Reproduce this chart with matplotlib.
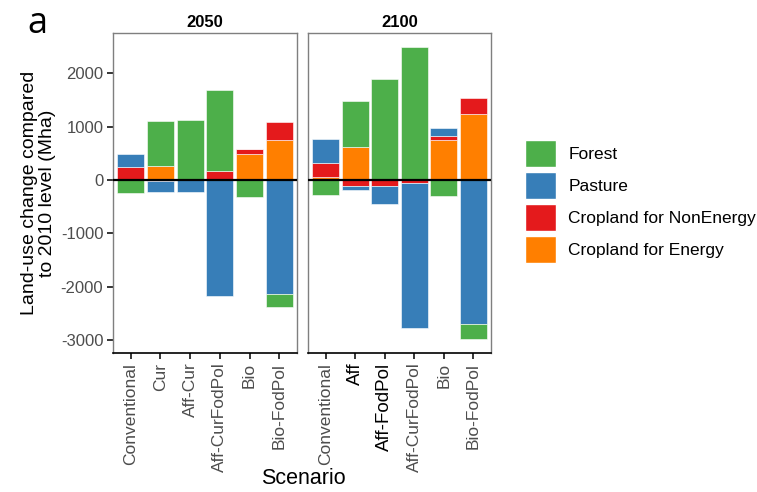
import matplotlib
matplotlib.use("Agg")
import matplotlib.pyplot as plt
from matplotlib.patches import Patch
import numpy as np

plt.rcParams['font.family'] = ['Liberation Sans', 'DejaVu Sans']

years = ["2050", "2100"]
scen_2050 = ["Conventional", "Cur", "Aff-Cur", "Aff-CurFodPol", "Bio", "Bio-FodPol"]
scen_2100 = ["Conventional", "Aff", "Aff-FodPol", "Aff-CurFodPol", "Bio", "Bio-FodPol"]

categories = ["Forest", "Pasture", "Cropland for NonEnergy", "Cropland for Energy"]
colors = {"Forest": "#4DAF4A", "Pasture": "#377EB8",
          "Cropland for NonEnergy": "#E41A1C", "Cropland for Energy": "#FF7F00"}

forest_2050 = [-243, 854, 1128, 1508, -311, -237]
pasture_2050 = [249, -210, -230, -2162, 0, -2131]
nonenergy_2050 = [243, -15, 0, 168, 94, 343]
energy_2050 = [0, 255, 0, 0, 492, 741]

forest_2100 = [-274, 853, 1882, 2486, -305, -274]
pasture_2100 = [461, -87, -336, -2711, 144, -2698]
nonenergy_2100 = [262, -106, -106, -62, 81, 299]
energy_2100 = [50, 617, 0, 0, 741, 1234]

data = {
    "2050": (scen_2050, {"Forest": forest_2050, "Pasture": pasture_2050,
                         "Cropland for NonEnergy": nonenergy_2050,
                         "Cropland for Energy": energy_2050}),
    "2100": (scen_2100, {"Forest": forest_2100, "Pasture": pasture_2100,
                         "Cropland for NonEnergy": nonenergy_2100,
                         "Cropland for Energy": energy_2100}),
}

yticks = [-3000, -2000, -1000, 0, 1000, 2000]

fig = plt.figure(figsize=(7.57, 4.92), dpi=100)
W, H = 757, 492
panels = [(113, 297), (308, 491)]
top, bottom = 33, 353
stack_order = ["Cropland for Energy", "Cropland for NonEnergy", "Pasture", "Forest"]

axes = []
for i, yr in enumerate(years):
    x0, x1 = panels[i]
    ax = fig.add_axes([x0 / W, 1 - bottom / H, (x1 - x0) / W, (bottom - top) / H])
    axes.append(ax)
    scen, vals = data[yr]
    x = np.arange(len(scen))
    pos = np.zeros(len(scen))
    neg = np.zeros(len(scen))
    for cat in stack_order:
        v = np.array(vals[cat], dtype=float)
        b = np.where(v >= 0, pos, neg)
        ax.bar(x, v, 0.9, bottom=b, color=colors[cat], edgecolor="white",
               linewidth=0.4, zorder=2)
        pos = pos + np.where(v >= 0, v, 0)
        neg = neg + np.where(v < 0, v, 0)
    ax.axhline(0, color="black", lw=1.6, zorder=3)
    ax.set_xlim(-0.6, len(scen) - 0.4)
    ax.set_ylim(-3234, 2748)
    ax.set_yticks(yticks)
    ax.set_xticks(x)
    ax.set_xticklabels(scen, rotation=90, fontsize=12.5, color="#4d4d4d")
    for s in ["top", "right", "left"]:
        ax.spines[s].set_color("#7f7f7f")
        ax.spines[s].set_linewidth(1.0)
    ax.spines["bottom"].set_color("black")
    ax.spines["bottom"].set_linewidth(1.2)
    ax.tick_params(axis="x", length=4, width=1.1, color="black", pad=3)
    ax.set_title(yr, fontsize=12, fontweight="bold", pad=4)
    if i == 0:
        ax.set_yticklabels([str(t) for t in yticks], fontsize=12, color="#4d4d4d")
        ax.tick_params(axis="y", length=4, width=1.1, color="black", pad=3)
        ax.set_ylabel("Land-use change compared\nto 2010 level (Mha)", fontsize=14,
                      labelpad=3, linespacing=1.1)
    else:
        ax.tick_params(axis="y", left=False, labelleft=False)
        for lbl in ax.get_xticklabels():
            if lbl.get_text() in ("Aff", "Aff-FodPol"):
                lbl.set_color("black")
                lbl.set_fontsize(13.5)

fig.text(303 / W, 1 - 479 / H, "Scenario", ha="center", va="center", fontsize=15.5)
fig.text(37 / W, 1 - 24 / H, "a", ha="center", va="center", fontsize=26,
         family=["Open Sans", "DejaVu Sans"])

handles = [Patch(facecolor=colors[c], edgecolor="white", label=c) for c in categories]
fig.legend(handles=handles, loc="upper left", bbox_to_anchor=(518 / W, 1 - 133 / H),
           frameon=False, fontsize=12.5, handlelength=1.8, handleheight=2.0,
           handletextpad=0.7, labelspacing=0.3, borderaxespad=0)

fig.savefig("out.png", dpi=100)
